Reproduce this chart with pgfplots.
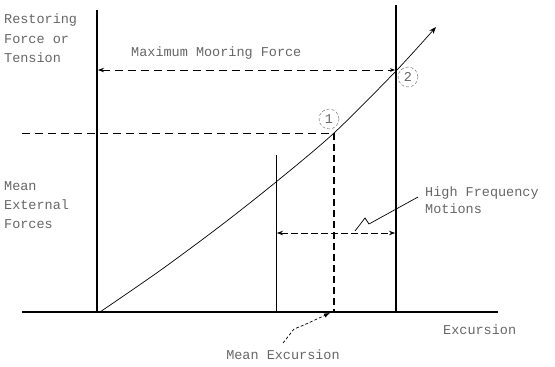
\documentclass[border=0pt]{standalone}
\usepackage{pgfplots}
\pgfplotsset{compat=1.18}
\usepackage{fontspec}
\setmonofont{Liberation Mono}
\usetikzlibrary{arrows.meta}
\tikzset{lab/.style={font=\fontsize{13.5}{15}\selectfont\ttfamily, text=black!60, inner sep=1pt}}
\begin{document}
\begin{tikzpicture}
\begin{axis}[scale only axis, width=555pt, height=367pt,
  xmin=0, xmax=555, ymin=0, ymax=367, y dir=reverse,
  axis lines=none, clip=false]
% axes
\addplot[black, line width=1.7pt] coordinates {(97,10) (97,312)};
\addplot[black, line width=1.7pt] coordinates {(22,312) (498,312)};
% restoring force curve
\addplot[black, line width=0.7pt, smooth, -{Stealth[length=7pt]}] coordinates {(100,312) (160,270.6) (220,226.2) (276,182) (334,133) (396,71) (436,27)};
% verticals
\addplot[black, line width=1.5pt] coordinates {(396,5) (396,312)};
\addplot[black, line width=1.0pt] coordinates {(276,155) (276,312)};
\addplot[black, line width=1.4pt, dash pattern=on 7pt off 4pt] coordinates {(334,133) (334,312)};
% horizontals dashed
\addplot[black, line width=0.8pt, dash pattern=on 8pt off 5pt] coordinates {(22,133) (334,133)};
\addplot[black, line width=0.8pt, dash pattern=on 8pt off 5pt, {Stealth[length=6pt]}-{Stealth[length=5pt]}] coordinates {(98,70) (395,70)};
% high frequency double arrow
\addplot[black, line width=0.7pt, dash pattern=on 7pt off 3pt, {Stealth[length=6pt]}-{Stealth[length=6pt]}] coordinates {(277,233) (395,233)};
% zigzag leader
\addplot[black, line width=0.7pt] coordinates {(355,231) (365,218) (369,224) (418,197)};
% mean excursion leader
\addplot[black, line width=0.7pt, densely dashed, -{Latex[length=6pt]}] coordinates {(283,343) (294,329) (304,325) (330,313)};
% circled points
\addplot[only marks, mark=o, mark size=10pt, black!60, densely dashed] coordinates {(329,119) (408,77)};
\node[lab] at (axis cs:329,119) {1};
\node[lab] at (axis cs:408,77) {2};
% texts
\node[lab, anchor=west] at (axis cs:3,20) {Restoring};
\node[lab, anchor=west] at (axis cs:3,39) {Force or};
\node[lab, anchor=west] at (axis cs:3,58) {Tension};
\node[lab, anchor=west] at (axis cs:130,53) {Maximum Mooring Force};
\node[lab, anchor=west] at (axis cs:3,186) {Mean};
\node[lab, anchor=west] at (axis cs:3,205) {External};
\node[lab, anchor=west] at (axis cs:3,224) {Forces};
\node[lab, anchor=west] at (axis cs:424,193) {High Frequency};
\node[lab, anchor=west] at (axis cs:424,209) {Motions};
\node[lab, anchor=west] at (axis cs:442,330) {Excursion};
\node[lab] at (axis cs:283,355) {Mean Excursion};
\end{axis}
\path (current axis.south west) rectangle (current axis.north east);
\end{tikzpicture}
\end{document}
